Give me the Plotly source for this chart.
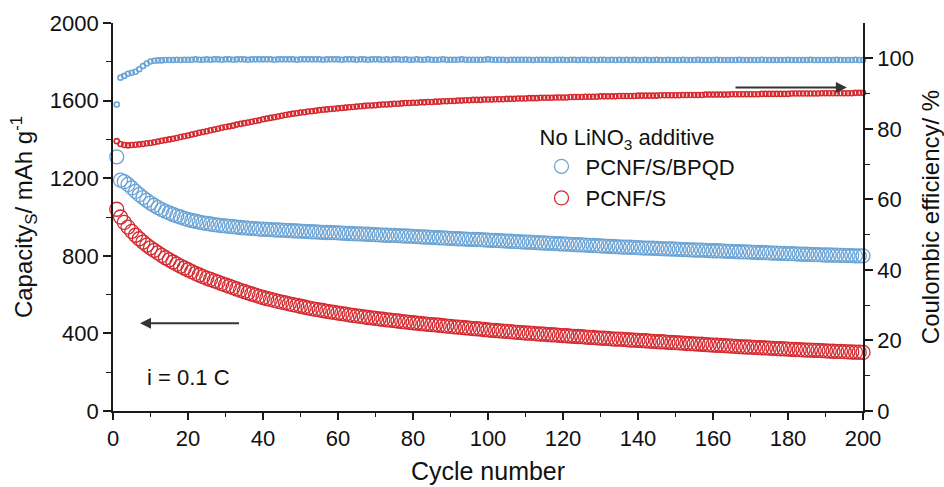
import plotly.graph_objects as go

# Cycle index 1..200
cycles = list(range(1, 201))

# Specific discharge capacity (mAh g-1), PCNF/S/BPQD
cap_bpqd = [
    1310, 1190, 1182, 1168, 1150, 1132, 1115, 1100, 1086, 1072,
    1060, 1048, 1038, 1029, 1021, 1013, 1006, 1000, 993, 987,
    982, 978, 974, 970, 967, 964, 961, 958, 956, 954,
    952, 950, 948, 946, 944, 943, 941, 940, 938, 937,
    936, 935, 934, 933, 932, 931, 930, 929, 928, 927,
    926, 925, 924, 923, 922, 921, 920, 920, 919, 918,
    917, 916, 915, 914, 913, 913, 912, 911, 910, 909,
    908, 907, 906, 905, 905, 904, 903, 902, 901, 900,
    899, 898, 897, 896, 895, 894, 893, 892, 891, 890,
    889, 888, 887, 886, 885, 885, 884, 883, 882, 881,
    880, 879, 878, 877, 876, 875, 874, 873, 872, 871,
    870, 869, 868, 867, 866, 865, 864, 863, 862, 861,
    860, 859, 858, 857, 856, 855, 854, 853, 852, 851,
    850, 849, 848, 847, 846, 845, 845, 844, 843, 842,
    841, 840, 840, 839, 838, 837, 836, 836, 835, 834,
    833, 832, 832, 831, 830, 829, 829, 828, 827, 826,
    826, 825, 824, 823, 823, 822, 821, 820, 820, 819,
    818, 817, 817, 816, 815, 814, 814, 813, 812, 811,
    811, 810, 809, 808, 808, 807, 806, 806, 805, 804,
    804, 803, 803, 802, 802, 801, 801, 800, 800, 800,
]

# Specific discharge capacity (mAh g-1), PCNF/S
cap_s = [
    1040, 1000, 972, 948, 926, 906, 888, 871, 855, 841,
    828, 815, 802, 790, 779, 768, 757, 747, 737, 728,
    718, 709, 701, 693, 685, 678, 671, 664, 657, 650,
    643, 636, 629, 622, 616, 609, 603, 597, 591, 585,
    580, 575, 570, 565, 561, 557, 552, 548, 544, 540,
    536, 532, 528, 524, 521, 518, 514, 511, 508, 505,
    502, 499, 496, 493, 490, 488, 485, 482, 480, 477,
    475, 473, 470, 468, 466, 464, 461, 459, 457, 455,
    453, 451, 449, 447, 445, 444, 442, 440, 438, 436,
    434, 432, 431, 429, 427, 425, 424, 422, 420, 418,
    416, 415, 413, 412, 410, 409, 407, 405, 404, 402,
    401, 400, 398, 397, 396, 394, 393, 392, 390, 389,
    388, 386, 385, 384, 383, 381, 380, 379, 377, 376,
    375, 374, 372, 371, 370, 369, 368, 366, 365, 364,
    363, 362, 360, 359, 358, 357, 356, 354, 353, 352,
    351, 350, 348, 347, 346, 345, 344, 342, 341, 340,
    339, 338, 337, 336, 334, 333, 332, 331, 330, 329,
    328, 327, 326, 325, 324, 323, 322, 321, 320, 319,
    318, 317, 316, 315, 314, 314, 313, 312, 311, 310,
    309, 308, 307, 307, 306, 305, 304, 303, 303, 302,
]

# Coulombic efficiency (%), PCNF/S/BPQD
ce_bpqd = [
    86.9, 94.5, 95.0, 95.6, 95.9, 96.2, 96.9, 97.8, 98.5, 99.1,
    99.3, 99.4, 99.4, 99.5, 99.5, 99.5, 99.6, 99.5, 99.6, 99.6,
    99.6, 99.7, 99.6, 99.6, 99.7, 99.6, 99.7, 99.7, 99.6, 99.7,
    99.7, 99.6, 99.7, 99.7, 99.7, 99.6, 99.7, 99.7, 99.7, 99.7,
    99.7, 99.7, 99.6, 99.7, 99.7, 99.7, 99.7, 99.7, 99.6, 99.7,
    99.7, 99.7, 99.7, 99.7, 99.7, 99.6, 99.7, 99.7, 99.7, 99.7,
    99.6, 99.7, 99.7, 99.7, 99.6, 99.7, 99.7, 99.6, 99.7, 99.7,
    99.7, 99.6, 99.7, 99.6, 99.7, 99.7, 99.6, 99.7, 99.6, 99.6,
    99.7, 99.6, 99.6, 99.7, 99.6, 99.6, 99.6, 99.7, 99.6, 99.6,
    99.6, 99.6, 99.7, 99.6, 99.6, 99.6, 99.6, 99.6, 99.6, 99.7,
    99.6, 99.6, 99.6, 99.6, 99.5, 99.6, 99.6, 99.6, 99.6, 99.6,
    99.6, 99.5, 99.6, 99.6, 99.6, 99.6, 99.5, 99.6, 99.6, 99.6,
    99.5, 99.6, 99.6, 99.5, 99.6, 99.6, 99.5, 99.6, 99.5, 99.6,
    99.6, 99.5, 99.6, 99.5, 99.6, 99.5, 99.6, 99.5, 99.6, 99.5,
    99.5, 99.6, 99.5, 99.5, 99.6, 99.5, 99.5, 99.6, 99.5, 99.5,
    99.5, 99.6, 99.5, 99.5, 99.5, 99.6, 99.5, 99.5, 99.5, 99.5,
    99.6, 99.5, 99.5, 99.5, 99.5, 99.5, 99.6, 99.5, 99.5, 99.5,
    99.5, 99.5, 99.6, 99.5, 99.5, 99.5, 99.5, 99.5, 99.5, 99.6,
    99.5, 99.5, 99.5, 99.5, 99.5, 99.6, 99.5, 99.5, 99.5, 99.5,
    99.5, 99.5, 99.6, 99.5, 99.5, 99.5, 99.5, 99.6, 99.5, 99.5,
]

# Coulombic efficiency (%), PCNF/S
ce_s = [
    76.5, 75.7, 75.4, 75.3, 75.4, 75.5, 75.6, 75.7, 75.9, 76.0,
    76.2, 76.4, 76.6, 76.8, 77.0, 77.2, 77.4, 77.7, 77.9, 78.1,
    78.4, 78.6, 78.9, 79.1, 79.3, 79.6, 79.8, 80.0, 80.3, 80.5,
    80.7, 80.9, 81.2, 81.4, 81.6, 81.8, 82.0, 82.2, 82.4, 82.7,
    82.9, 83.1, 83.3, 83.5, 83.7, 83.9, 84.1, 84.3, 84.4, 84.6,
    84.7, 84.9, 85.0, 85.1, 85.3, 85.4, 85.5, 85.6, 85.7, 85.8,
    85.9, 86.0, 86.1, 86.2, 86.3, 86.4, 86.5, 86.6, 86.6, 86.7,
    86.8, 86.9, 86.9, 87.0, 87.1, 87.1, 87.2, 87.3, 87.3, 87.4,
    87.4, 87.5, 87.5, 87.6, 87.6, 87.7, 87.7, 87.8, 87.8, 87.9,
    87.9, 88.0, 88.0, 88.1, 88.1, 88.2, 88.2, 88.2, 88.3, 88.3,
    88.3, 88.4, 88.4, 88.4, 88.5, 88.5, 88.5, 88.6, 88.6, 88.6,
    88.7, 88.7, 88.7, 88.8, 88.8, 88.8, 88.8, 88.9, 88.9, 88.9,
    88.9, 89.0, 89.0, 89.0, 89.0, 89.1, 89.1, 89.1, 89.1, 89.2,
    89.2, 89.2, 89.2, 89.2, 89.3, 89.3, 89.3, 89.3, 89.3, 89.4,
    89.4, 89.4, 89.4, 89.4, 89.4, 89.5, 89.5, 89.5, 89.5, 89.5,
    89.5, 89.6, 89.6, 89.6, 89.6, 89.6, 89.6, 89.7, 89.7, 89.7,
    89.7, 89.7, 89.7, 89.7, 89.8, 89.8, 89.8, 89.8, 89.8, 89.8,
    89.8, 89.8, 89.9, 89.9, 89.9, 89.9, 89.9, 89.9, 89.9, 89.9,
    90.0, 90.0, 90.0, 90.0, 90.0, 90.0, 90.0, 90.0, 90.1, 90.1,
    90.1, 90.1, 90.1, 90.1, 90.1, 90.1, 90.1, 90.2, 90.2, 90.2,
]

series_names = ["PCNF/S/BPQD", "PCNF/S"]
BLUE = "#6aa3d4"
RED = "#d42a30"
FONT = "Arial, Liberation Sans, sans-serif"
AXIS = "#1a1a1a"

fig = go.Figure()

# Capacity (left axis), large open circles
for name, vals, col in [(series_names[0], cap_bpqd, BLUE), (series_names[1], cap_s, RED)]:
    fig.add_trace(go.Scatter(
        x=cycles, y=vals, mode="markers", name=name, cliponaxis=False,
        marker=dict(symbol="circle-open", size=14, color=col, line=dict(width=1.3, color=col)),
    ))

# Coulombic efficiency (right axis), small circles
for vals, col in [(ce_bpqd, BLUE), (ce_s, RED)]:
    fig.add_trace(go.Scatter(
        x=cycles, y=vals, mode="markers", yaxis="y2", showlegend=False, cliponaxis=False,
        marker=dict(symbol="circle-open", size=5, color=col, line=dict(width=1.6, color=col)),
    ))

tickfont = dict(family=FONT, size=22, color="#111")
titlefont = dict(family=FONT, size=24, color="#111")

fig.update_layout(
    width=944, height=487,
    margin=dict(l=113, r=81, t=23, b=76, autoexpand=False),
    paper_bgcolor="white", plot_bgcolor="white",
    font=dict(family=FONT, size=22, color="#111"),
    xaxis=dict(
        range=[0, 200], dtick=20, tick0=0, showgrid=False, zeroline=False, automargin=False,
        showline=True, linecolor=AXIS, linewidth=1.6,
        ticks="outside", ticklen=7, tickwidth=1.6, tickcolor=AXIS,
        minor=dict(dtick=10, ticks="outside", ticklen=4, tickwidth=1.4, tickcolor=AXIS),
        tickfont=tickfont,
        title=dict(text="Cycle number", font=dict(family=FONT, size=25, color="#111"), standoff=12),
    ),
    yaxis=dict(
        range=[0, 2000], dtick=400, tick0=0, showgrid=False, zeroline=False, automargin=False,
        showline=True, linecolor=AXIS, linewidth=1.6,
        ticks="outside", ticklen=8, tickwidth=1.6, tickcolor=AXIS,
        minor=dict(dtick=200, ticks="outside", ticklen=5, tickwidth=1.4, tickcolor=AXIS),
        tickfont=tickfont,
        title=dict(text="Capacity<sub>S</sub>/ mAh g<sup>-1</sup>", font=titlefont, standoff=10),
    ),
    yaxis2=dict(
        range=[0, 110], tickvals=[0, 20, 40, 60, 80, 100], overlaying="y", side="right",
        showgrid=False, zeroline=False, automargin=False,
        showline=True, linecolor=AXIS, linewidth=1.6,
        ticks="outside", ticklen=8, tickwidth=1.6, tickcolor=AXIS,
        minor=dict(tickvals=[10, 30, 50, 70, 90], ticks="outside", ticklen=5, tickwidth=1.4, tickcolor=AXIS),
        tickfont=tickfont,
        title=dict(text="Coulombic efficiency/ %", font=titlefont, standoff=14),
    ),
    legend=dict(
        x=0.566, y=0.758, xanchor="left", yanchor="top",
        bgcolor="rgba(0,0,0,0)", borderwidth=0,
        font=dict(family=FONT, size=22, color="#111"),
        title=dict(text="No LiNO<sub>3</sub> additive", font=dict(family=FONT, size=22, color="#111")),
        itemsizing="trace", itemwidth=38,
    ),
    annotations=[
        dict(x=7.2, y=452, xref="x", yref="y", ax=34, ay=452, axref="x", ayref="y",
             text="", showarrow=True, arrowhead=2, arrowsize=1.1, arrowwidth=2, arrowcolor="#333"),
        dict(x=195.7, y=91.7, xref="x", yref="y2", ax=165.6, ay=91.7, axref="x", ayref="y2",
             text="", showarrow=True, arrowhead=2, arrowsize=1.1, arrowwidth=2, arrowcolor="#333"),
        dict(x=8.5, y=175, xref="x", yref="y", xanchor="left", yanchor="middle",
             text="i = 0.1 C", showarrow=False, font=dict(family=FONT, size=22, color="#111")),
    ],
)

fig.write_html("out.html")
